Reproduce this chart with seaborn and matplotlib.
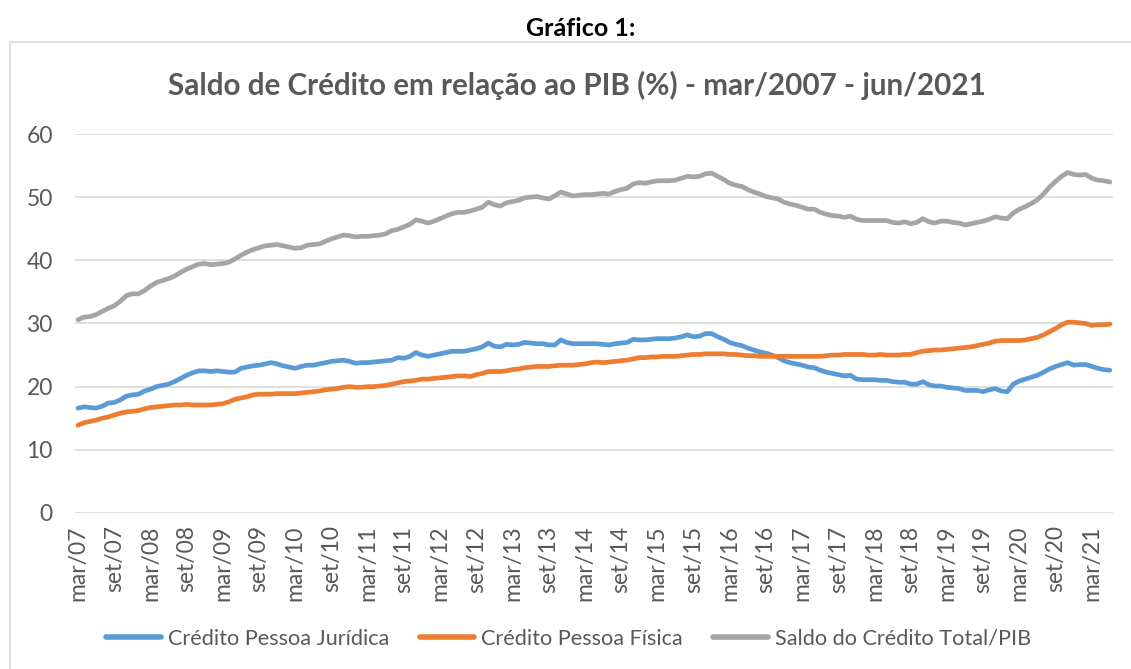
import numpy as np
import pandas as pd
import seaborn as sns
import matplotlib.pyplot as plt
from matplotlib.patches import Rectangle

# Saldo de crédito / PIB (%), mensal de mar/2007 a jun/2021
meses = pd.period_range('2007-03', '2021-06', freq='M')

credito_pj = [
    16.6, 16.8, 16.7, 16.6, 16.9, 17.4, 17.5, 17.9, 18.5, 18.7,
    18.8, 19.3, 19.6, 20.0, 20.2, 20.4, 20.8, 21.3, 21.8, 22.2,
    22.5, 22.5, 22.4, 22.5, 22.4, 22.3, 22.3, 22.9, 23.1, 23.3,
    23.4, 23.6, 23.8, 23.6, 23.3, 23.1, 22.9, 23.2, 23.4, 23.4,
    23.6, 23.8, 24.0, 24.1, 24.2, 24.0, 23.7, 23.8, 23.8, 23.9,
    24.0, 24.1, 24.2, 24.6, 24.5, 24.8, 25.4, 25.0, 24.8, 25.0,
    25.2, 25.4, 25.6, 25.6, 25.6, 25.8, 26.0, 26.3, 26.9, 26.4,
    26.3, 26.7, 26.6, 26.7, 27.0, 26.9, 26.8, 26.8, 26.6, 26.6,
    27.4, 27.0, 26.8, 26.8, 26.8, 26.8, 26.8, 26.7, 26.6, 26.8,
    26.9, 27.0, 27.5, 27.4, 27.4, 27.5, 27.6, 27.6, 27.6, 27.7,
    27.9, 28.2, 27.9, 28.0, 28.4, 28.4, 27.9, 27.5, 27.0, 26.7,
    26.5, 26.1, 25.8, 25.5, 25.3, 25.0, 24.6, 24.1, 23.8, 23.6,
    23.4, 23.1, 23.0, 22.6, 22.3, 22.1, 21.9, 21.7, 21.8, 21.2,
    21.1, 21.1, 21.1, 21.0, 21.0, 20.8, 20.7, 20.7, 20.4, 20.4,
    20.8, 20.3, 20.1, 20.1, 19.9, 19.8, 19.7, 19.4, 19.4, 19.4,
    19.2, 19.5, 19.7, 19.3, 19.2, 20.4, 20.9, 21.2, 21.5, 21.8,
    22.3, 22.8, 23.2, 23.5, 23.8, 23.4, 23.5, 23.5, 23.2, 22.9,
    22.7, 22.6,
]

credito_pf = [
    13.9, 14.3, 14.5, 14.7, 15.0, 15.2, 15.5, 15.8, 16.0, 16.1,
    16.2, 16.5, 16.7, 16.8, 16.9, 17.0, 17.1, 17.1, 17.2, 17.1,
    17.1, 17.1, 17.1, 17.2, 17.3, 17.6, 18.0, 18.2, 18.4, 18.7,
    18.8, 18.8, 18.8, 18.9, 18.9, 18.9, 18.9, 19.0, 19.1, 19.2,
    19.3, 19.5, 19.6, 19.7, 19.9, 20.0, 19.9, 19.9, 20.0, 20.0,
    20.1, 20.2, 20.4, 20.6, 20.8, 20.9, 21.0, 21.2, 21.2, 21.3,
    21.4, 21.5, 21.6, 21.7, 21.7, 21.6, 21.9, 22.1, 22.4, 22.4,
    22.4, 22.5, 22.7, 22.8, 23.0, 23.1, 23.2, 23.2, 23.2, 23.3,
    23.4, 23.4, 23.4, 23.5, 23.6, 23.8, 23.9, 23.8, 23.9, 24.0,
    24.1, 24.2, 24.4, 24.6, 24.6, 24.7, 24.7, 24.8, 24.8, 24.8,
    24.9, 25.0, 25.1, 25.1, 25.2, 25.2, 25.2, 25.2, 25.1, 25.1,
    25.0, 24.9, 24.9, 24.8, 24.8, 24.8, 24.8, 24.8, 24.8, 24.8,
    24.8, 24.8, 24.8, 24.8, 24.9, 25.0, 25.0, 25.1, 25.1, 25.1,
    25.1, 25.0, 25.0, 25.1, 25.0, 25.0, 25.0, 25.1, 25.1, 25.4,
    25.6, 25.7, 25.8, 25.8, 25.9, 26.0, 26.1, 26.2, 26.3, 26.5,
    26.7, 26.9, 27.2, 27.3, 27.3, 27.3, 27.3, 27.4, 27.6, 27.8,
    28.2, 28.7, 29.2, 29.8, 30.2, 30.2, 30.1, 30.0, 29.7, 29.8,
    29.8, 29.9,
]

credito_total = [
    30.6, 31.0, 31.1, 31.4, 31.9, 32.4, 32.8, 33.5, 34.4, 34.7,
    34.7, 35.2, 35.9, 36.5, 36.8, 37.1, 37.5, 38.1, 38.6, 39.0,
    39.4, 39.5, 39.3, 39.4, 39.5, 39.7, 40.2, 40.8, 41.3, 41.7,
    42.0, 42.3, 42.4, 42.5, 42.3, 42.1, 41.9, 42.0, 42.4, 42.5,
    42.6, 43.0, 43.4, 43.7, 44.0, 43.9, 43.7, 43.8, 43.8, 43.9,
    44.0, 44.2, 44.7, 44.9, 45.3, 45.7, 46.4, 46.2, 45.9, 46.2,
    46.6, 47.0, 47.4, 47.6, 47.6, 47.8, 48.1, 48.4, 49.2, 48.8,
    48.6, 49.1, 49.3, 49.5, 49.9, 50.0, 50.1, 49.9, 49.7, 50.2,
    50.8, 50.5, 50.2, 50.3, 50.4, 50.4, 50.5, 50.6, 50.5, 50.9,
    51.2, 51.4, 52.1, 52.3, 52.2, 52.4, 52.6, 52.6, 52.6, 52.7,
    53.0, 53.3, 53.2, 53.3, 53.7, 53.8, 53.3, 52.8, 52.2, 51.9,
    51.7, 51.2, 50.8, 50.5, 50.1, 49.9, 49.7, 49.2, 48.9, 48.7,
    48.4, 48.1, 48.1, 47.6, 47.3, 47.1, 47.0, 46.8, 47.0, 46.5,
    46.3, 46.3, 46.3, 46.3, 46.3, 46.0, 45.9, 46.1, 45.8, 46.0,
    46.6, 46.1, 45.9, 46.2, 46.2, 46.0, 45.9, 45.6, 45.8, 46.0,
    46.2, 46.5, 46.9, 46.7, 46.6, 47.5, 48.1, 48.5, 49.0, 49.6,
    50.5, 51.6, 52.5, 53.3, 53.9, 53.6, 53.5, 53.6, 53.0, 52.7,
    52.6, 52.4,
]

series = ['Crédito Pessoa Jurídica', 'Crédito Pessoa Física', 'Saldo do Crédito Total/PIB']
cores = ['#5B9BD5', '#ED7D31', '#A5A5A5']

rotulos_x = ['mar/07', 'set/07', 'mar/08', 'set/08', 'mar/09', 'set/09', 'mar/10',
             'set/10', 'mar/11', 'set/11', 'mar/12', 'set/12', 'mar/13', 'set/13',
             'mar/14', 'set/14', 'mar/15', 'set/15', 'mar/16', 'set/16', 'mar/17',
             'set/17', 'mar/18', 'set/18', 'mar/19', 'set/19', 'mar/20', 'set/20',
             'mar/21']

# DataFrame em formato longo para o seaborn
n = len(meses)
df = pd.DataFrame({
    'mes': np.tile(np.arange(n), 3),
    'valor': credito_pj + credito_pf + credito_total,
    'serie': np.repeat(series, n),
})

sns.set_style('white')
plt.rcParams['font.family'] = ['Lato', 'DejaVu Sans']
cinza_texto = '#595959'

fig = plt.figure(figsize=(11.31, 6.69), dpi=100)
ax = fig.add_axes([0.0663, 0.2332, 0.9177, 0.5665])

sns.lineplot(data=df, x='mes', y='valor', hue='serie', hue_order=series,
             palette=cores, linewidth=3.4, ax=ax, legend=False)

ax.set_xlim(-0.5, n - 0.5)
ax.set_ylim(0, 60)
ax.set_yticks(range(0, 61, 10))
ax.set_xticks(range(0, n, 6))
ax.set_xticklabels(rotulos_x, rotation=90)
ax.tick_params(axis='both', length=0, labelsize=16.5, labelcolor=cinza_texto)
ax.tick_params(axis='x', pad=9)
ax.tick_params(axis='y', pad=16)
ax.grid(axis='y', color='#D9D9D9', linewidth=1.2)
ax.set_axisbelow(True)
for lado in ax.spines.values():
    lado.set_visible(False)
ax.set_xlabel('')
ax.set_ylabel('')

# moldura da área do gráfico
fig.patches.append(Rectangle((10 / 1131, -0.05), 1.1, 1 - 42 / 669 + 0.05,
                             transform=fig.transFigure, fill=False,
                             edgecolor='#D9D9D9', linewidth=1.2))

fig.text(0.513, 0.958, 'Gráfico 1:', ha='center', va='center',
         fontsize=18, fontweight='bold', color='black')
fig.text(0.510, 0.873, 'Saldo de Crédito em relação ao PIB (%) - mar/2007 - jun/2021',
         ha='center', va='center', fontsize=21.3, fontweight='bold', color=cinza_texto)

handles = [plt.Line2D([], [], color=c, linewidth=4, solid_capstyle='round') for c in cores]
fig.legend(handles, series, loc='center', bbox_to_anchor=(0.503, 0.045), ncol=3,
           frameon=False, fontsize=15.6, labelcolor=cinza_texto, handlelength=2.5,
           handletextpad=0.35, columnspacing=1.4)

fig.savefig('out.png', dpi=100)
